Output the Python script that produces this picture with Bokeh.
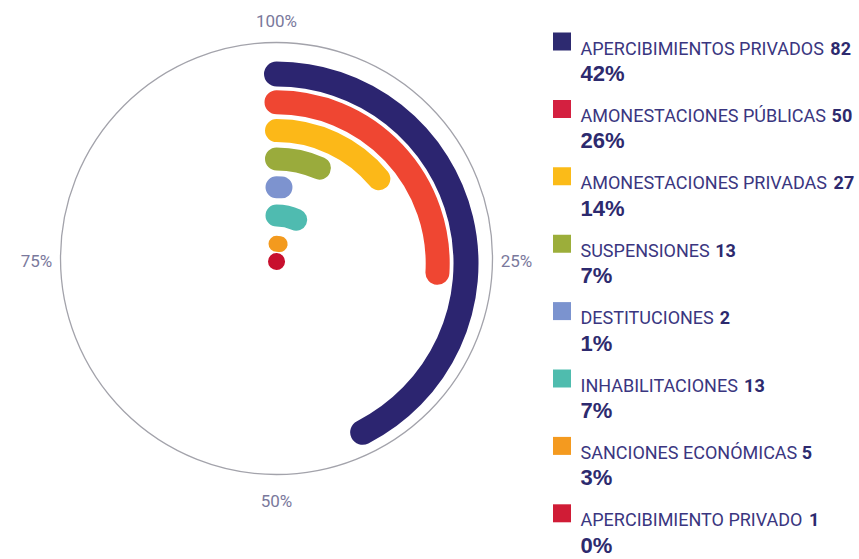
import numpy as np
from bokeh.plotting import figure
from bokeh.models import ColumnDataSource, Range1d
from bokeh.core.properties import value
from bokeh.embed import file_html
from bokeh.resources import INLINE

# ---------------- data ----------------
categories = ["APERCIBIMIENTOS PRIVADOS", "AMONESTACIONES PÚBLICAS", "AMONESTACIONES PRIVADAS",
              "SUSPENSIONES", "DESTITUCIONES", "INHABILITACIONES", "SANCIONES ECONÓMICAS",
              "APERCIBIMIENTO PRIVADO"]
counts = [82, 50, 27, 13, 2, 13, 5, 1]
percent_labels = ["42%", "26%", "14%", "7%", "1%", "7%", "3%", "0%"]
axis_ticks = [0, 25, 50, 75]
axis_tick_labels = ["100%", "25%", "50%", "75%"]

# ---------------- styles ----------------
arc_colors = ["#2c2570", "#ef4632", "#fcb818", "#9aab3c", "#7d93cf", "#4fbbb0", "#f39a1e", "#c8102e"]
legend_colors = ["#2d2a70", "#d42040", "#fbbb18", "#9cae3a", "#7b93cf", "#4fbcae", "#f49a1f", "#d01c36"]
arc_widths = [25, 24, 23, 23, 22, 22, 16, 17]
label_color = "#3a3680"
pct_color = "#2d2a6e"
tick_color = "#7a799c"
font = "Roboto"

W, H = 859, 559
p = figure(width=W, height=H, x_range=Range1d(0, W), y_range=Range1d(-H, 0),
           x_axis_type=None, y_axis_type=None, toolbar_location=None,
           output_backend="svg", min_border=0, outline_line_color=None,
           background_fill_color="white", border_fill_color="white")
p.grid.visible = False

# outline circle
cx, cy, R = 276, -258, 216
p.circle(x=[cx], y=[cy], radius=R, fill_color=None, line_color="#a3a3ab", line_width=1.3)

# tick labels around the circle (clockwise from top)
tick_ang = np.pi / 2 - np.array(axis_ticks) / 100 * 2 * np.pi
tr = 240
p.text(x=cx + tr * np.cos(tick_ang), y=-260 + tr * np.sin(tick_ang), text=axis_tick_labels,
       text_font=value(font), text_font_size="17px", text_color=tick_color,
       text_align="center", text_baseline="middle")

# radial bars
acx, acy = 276, -263
total = sum(counts)
frac = np.array(counts) / total
idx = np.arange(len(counts))
radii = np.maximum(189.5 - 28.3 * idx, 2)
src = ColumnDataSource(dict(x=[acx] * len(counts), y=[acy] * len(counts), r=radii,
                            start=[np.pi / 2] * len(counts),
                            end=np.pi / 2 - frac * 2 * np.pi,
                            color=arc_colors, lw=arc_widths))
p.arc(x="x", y="y", radius="r", start_angle="start", end_angle="end", direction="clock",
      line_color="color", line_width="lw", line_cap="round", source=src)

# legend (Roboto advance widths, fraction of em)
adv = {" ": 0.248, "Ú": 0.637, "Ó": 0.675, "A": 0.652, "B": 0.623, "C": 0.651, "D": 0.656,
       "E": 0.568, "F": 0.553, "G": 0.681, "H": 0.695, "I": 0.272, "L": 0.539, "M": 0.852,
       "N": 0.697, "O": 0.675, "P": 0.631, "R": 0.616, "S": 0.594, "T": 0.597, "U": 0.637,
       "V": 0.637}
fs = 18
def text_w(s):
    return sum(adv.get(c, 0.6) for c in s) * fs

row_y = 41 + 67.4 * idx
sq_x = 561.5
tx = 580
p.rect(x=[sq_x] * len(counts), y=-row_y, width=18, height=18, fill_color=legend_colors,
       line_color=None)
p.text(x=[tx] * len(counts), y=-(row_y + 6.5), text=categories, text_font=value(font),
       text_font_size=f"{fs}px", text_color=label_color, text_baseline="alphabetic")
num_x = [tx + text_w(c + " ") + 2 for c in categories]
p.text(x=num_x, y=-(row_y + 6.5), text=[str(c) for c in counts], text_font=value(font),
       text_font_style="bold", text_font_size=f"{fs}px", text_color=pct_color,
       text_baseline="alphabetic")
p.text(x=[tx] * len(counts), y=-(row_y + 32), text=percent_labels,
       text_font=value("Liberation Sans"), text_font_style="bold", text_font_size="22px",
       text_color=pct_color, text_baseline="alphabetic")

open("out.html", "w").write(file_html(p, INLINE))
